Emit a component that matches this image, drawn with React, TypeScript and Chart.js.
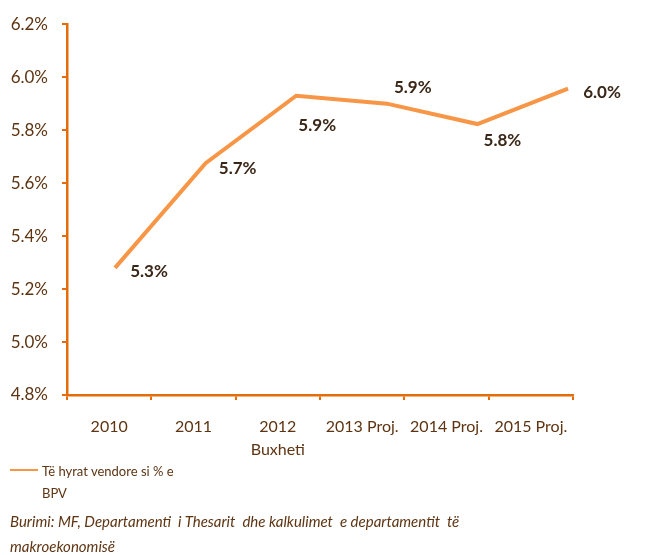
import React, { useEffect, useRef } from "react";
import { Chart, registerables } from "chart.js";

Chart.register(...registerables);

const categories: (string | string[])[] = ["2010", "2011", ["2012", "Buxheti"], "2013 Proj.", "2014 Proj.", "2015 Proj."];
const values: number[] = [5.28, 5.675, 5.93, 5.9, 5.823, 5.957];
const valueLabels: string[] = ["5.3%", "5.7%", "5.9%", "5.9%", "5.8%", "6.0%"];
const seriesName = "Të hyrat vendore si % e BPV";
const yTicks = { min: 4.8, max: 6.2, step: 0.2 };

const FONT = "Lato, 'Open Sans', sans-serif";
const AXIS = "#e46c0a";
const LINE = "#f79646";
const TICK_TXT = "#5e3412";
const LABEL_TXT = "#3b2717";

const labelOffsets: [number, number][] = [[34, 4], [32, 5], [21, 30], [26, -16], [25, 16], [34, 4]];

const valueLabelPlugin = {
  id: "valueLabels",
  afterDatasetsDraw(chart: any) {
    const ctx = chart.ctx;
    const meta = chart.getDatasetMeta(0);
    ctx.save();
    ctx.font = `bold 17px ${FONT}`;
    ctx.fillStyle = LABEL_TXT;
    ctx.textAlign = "center";
    ctx.textBaseline = "middle";
    meta.data.forEach((pt: any, i: number) => {
      const [dx, dy] = labelOffsets[i];
      ctx.fillText(valueLabels[i], pt.x + dx, pt.y + dy);
    });
    ctx.restore();
  },
};

export default function App() {
  const ref = useRef<HTMLCanvasElement>(null);
  useEffect(() => {
    if (!ref.current) return;
    const chart = new Chart(ref.current, {
      type: "line",
      data: {
        labels: categories as any,
        datasets: [
          {
            label: seriesName,
            data: values.map((v, i) => ({ x: i, y: v })),
            xAxisID: "xl",
            borderColor: LINE,
            borderWidth: 4,
            pointRadius: 0,
            tension: 0,
            fill: false,
          },
        ],
      },
      options: {
        animation: false,
        responsive: false,
        devicePixelRatio: 1,
        layout: { padding: { left: 0, right: 86, top: 20, bottom: 0 } },
        plugins: { legend: { display: false }, tooltip: { enabled: false } },
        scales: {
          xl: { type: "linear", display: false, min: -0.53, max: 5.055 },
          x: {
            type: "category",
            offset: true,
            afterFit: (s: any) => { s.height = 160; },
            border: { color: AXIS, width: 2.5 },
            grid: { offset: true, drawOnChartArea: false, drawTicks: true, tickLength: 5, color: AXIS, lineWidth: 2 },
            ticks: { color: TICK_TXT, font: { family: FONT, size: 16, lineHeight: 1.45 }, padding: 15, maxRotation: 0, autoSkip: false },
          },
          y: {
            type: "linear",
            min: yTicks.min,
            max: yTicks.max,
            afterFit: (s: any) => { s.width = 67; },
            border: { color: AXIS, width: 2.5 },
            grid: { drawOnChartArea: false, drawTicks: true, tickLength: 5, color: AXIS, lineWidth: 2 },
            ticks: {
              stepSize: yTicks.step,
              color: TICK_TXT,
              font: { family: FONT, size: 17 },
              padding: 14,
              callback: (v: any) => Number(v).toFixed(1) + "%",
            },
          },
        },
      } as any,
      plugins: [valueLabelPlugin],
    });
    return () => chart.destroy();
  }, []);

  return (
    <div style={{ position: "absolute", left: 0, top: 0, width: 659, height: 555, background: "#fff", fontFamily: FONT }}>
      <canvas ref={ref} width={659} height={555} style={{ position: "absolute", left: 0, top: 0 }} />
      <div style={{ position: "absolute", left: 10, top: 469, width: 28, height: 2, background: LINE }} />
      <div style={{ position: "absolute", left: 42, top: 460, fontSize: 13, lineHeight: "22px", color: TICK_TXT, whiteSpace: "pre" }}>
        {"Të hyrat vendore si % e\nBPV"}
      </div>
      <div style={{ position: "absolute", left: 10, top: 509, fontSize: 15, lineHeight: "25px", fontStyle: "italic", color: TICK_TXT, whiteSpace: "pre" }}>
        {"Burimi: MF, Departamenti  i Thesarit  dhe kalkulimet  e departamentit  të\nmakroekonomisë"}
      </div>
    </div>
  );
}
